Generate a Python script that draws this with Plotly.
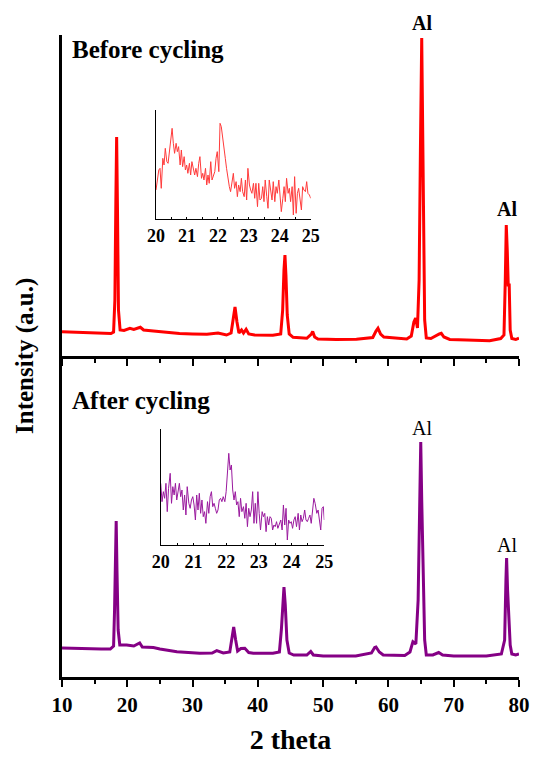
import plotly.graph_objects as go

# ---------------- data ----------------
# main patterns (2 theta, intensity a.u.)
before_2theta = [10.0, 12.0, 14.0, 16.0, 17.5, 17.9, 18.1, 18.25, 18.37, 18.5, 18.65, 18.9, 19.5,
                 20.4, 21.0, 22.0, 22.5, 24.0, 26.0, 28.0, 30.0, 32.2, 33.9, 35.2, 35.9, 36.2,
                 36.5, 36.8, 37.1, 37.5, 37.8, 38.2, 38.6, 39.5, 42.3, 43.5, 43.8, 44.0, 44.15,
                 44.3, 44.5, 44.8, 45.4, 47.5, 48.2, 48.4, 48.7, 49.2, 52.0, 55.1, 57.6, 58.1,
                 58.4, 58.8, 59.3, 62.8, 63.5, 63.9, 64.17, 64.45, 64.7, 64.9, 65.0, 65.1, 65.2,
                 65.3, 65.4, 65.55, 65.8, 66.5, 67.8, 68.1, 68.5, 69.4, 72.0, 75.5, 77.2, 77.7,
                 77.9, 78.05, 78.2, 78.35, 78.5, 78.65, 78.9, 79.5, 80.0]
before_int = [24.3, 24, 23.5, 23, 22.5, 24, 56, 156, 219, 146, 46, 26, 25.5,
              27.7, 26.5, 28.7, 26, 25, 23.7, 22.5, 22, 21.7, 23, 21, 23, 36,
              49, 34, 23, 26, 23, 26.7, 22, 21, 20.7, 22, 46, 86, 101,
              81, 41, 22, 18.7, 17.7, 22, 24.5, 19, 17, 16.5, 16.7, 18.5, 25,
              27.7, 22, 19, 17, 20, 34, 38, 28, 76, 206, 296, 318, 256,
              169, 156, 36, 18, 17.5, 22, 22.7, 19, 16.5, 16, 15.3, 17.5, 21,
              76, 131, 106, 71, 71, 26, 17.5, 16.5, 18]

after_2theta = [10.0, 12.0, 14.0, 16.0, 17.4, 17.9, 18.05, 18.18, 18.3, 18.42, 18.6, 18.85, 19.9,
                21.0, 21.9, 22.3, 24.0, 25.0, 27.6, 31.1, 33.0, 33.7, 34.7, 35.7, 36.0, 36.3,
                36.6, 36.9, 37.4, 38.0, 38.6, 39.3, 42.3, 43.3, 43.6, 43.85, 44.0, 44.2, 44.45,
                44.8, 45.5, 47.5, 47.9, 48.1, 48.5, 50.0, 55.0, 57.4, 57.9, 58.1, 58.6, 59.2,
                62.5, 63.3, 63.75, 64.2, 64.55, 64.8, 64.95, 65.1, 65.25, 65.35, 65.55, 65.8,
                66.8, 67.7, 68.3, 70.0, 75.0, 77.3, 77.8, 78.0, 78.1, 78.25, 78.35, 78.5, 78.65,
                78.9, 79.5, 80.0]
after_int = [29, 28.5, 28.5, 28, 28, 31, 67, 117, 156, 107, 47, 32, 32,
             31, 34, 30, 29.5, 28, 25.3, 23.7, 24, 26.3, 24, 25, 37, 50,
             37, 26, 28.5, 28.7, 24.5, 23.7, 23.7, 25, 47, 82, 90, 72, 37,
             24, 22, 22, 25, 25.5, 22, 21, 21, 24, 29.5, 30, 25, 22,
             21.5, 25, 35.3, 33, 77, 197, 235, 177, 117, 107, 37, 22,
             22, 24.5, 22, 21, 21, 23, 37, 97, 119, 87, 69, 62, 32,
             23, 22, 23]

# inset (20-25 deg), before cycling
inset_before_2theta = [20.00, 20.04, 20.09, 20.13, 20.17, 20.22, 20.26, 20.30, 20.35, 20.39,
                       20.43, 20.47, 20.52, 20.56, 20.60, 20.65, 20.69, 20.73, 20.78, 20.82,
                       20.86, 20.91, 20.95, 20.99, 21.03, 21.08, 21.12, 21.16, 21.21, 21.25,
                       21.29, 21.34, 21.38, 21.42, 21.47, 21.51, 21.55, 21.60, 21.64, 21.68,
                       21.72, 21.77, 21.81, 21.85, 21.90, 21.94, 21.98, 22.03, 22.07, 22.11,
                       22.16, 22.20, 22.24, 22.28, 22.33, 22.37, 22.41, 22.46, 22.50, 22.54,
                       22.59, 22.63, 22.67, 22.72, 22.76, 22.80, 22.85, 22.89, 22.93, 22.97,
                       23.02, 23.06, 23.10, 23.15, 23.19, 23.23, 23.28, 23.32, 23.36, 23.41,
                       23.45, 23.49, 23.53, 23.58, 23.62, 23.66, 23.71, 23.75, 23.79, 23.84,
                       23.88, 23.92, 23.97, 24.01, 24.05, 24.10, 24.14, 24.18, 24.22, 24.27,
                       24.31, 24.35, 24.40, 24.44, 24.48, 24.53, 24.57, 24.61, 24.66, 24.70,
                       24.74, 24.78, 24.83, 24.87, 24.91, 24.96, 25.00]
inset_before_int = [87, 112, 147, 152, 92, 182, 162, 212, 172, 167,
                    197, 217, 272, 227, 197, 227, 202, 217, 162, 207,
                    157, 187, 147, 162, 137, 167, 132, 172, 142, 132,
                    152, 127, 167, 187, 122, 137, 117, 152, 102, 132,
                    107, 172, 117, 127, 142, 182, 202, 142, 287, 277,
                    232, 217, 182, 152, 112, 97, 82, 117, 137, 92,
                    112, 67, 102, 82, 122, 82, 67, 117, 57, 152,
                    102, 87, 77, 107, 62, 107, 37, 107, 57, 62,
                    97, 52, 117, 67, 32, 117, 82, 57, 112, 52,
                    97, 77, 117, 72, 22, 62, 97, 52, 122, 77,
                    92, 52, 97, 12, 127, 17, 77, 92, 57, 27,
                    97, 87, 82, 112, 77, 72, 62]

# inset (20-25 deg), after cycling
inset_after_2theta = [20.00, 20.04, 20.08, 20.12, 20.16, 20.20, 20.24, 20.29, 20.33, 20.37,
                      20.41, 20.45, 20.49, 20.53, 20.57, 20.61, 20.65, 20.69, 20.73, 20.77,
                      20.81, 20.86, 20.90, 20.94, 20.98, 21.02, 21.06, 21.10, 21.14, 21.18,
                      21.22, 21.26, 21.30, 21.34, 21.38, 21.43, 21.47, 21.51, 21.55, 21.59,
                      21.63, 21.67, 21.71, 21.75, 21.79, 21.83, 21.87, 21.91, 21.96, 22.00,
                      22.04, 22.08, 22.12, 22.16, 22.20, 22.24, 22.28, 22.32, 22.36, 22.40,
                      22.44, 22.48, 22.53, 22.57, 22.61, 22.65, 22.69, 22.73, 22.77, 22.81,
                      22.85, 22.89, 22.93, 22.97, 23.01, 23.05, 23.10, 23.14, 23.18, 23.22,
                      23.26, 23.30, 23.34, 23.38, 23.42, 23.46, 23.50, 23.54, 23.58, 23.62,
                      23.67, 23.71, 23.75, 23.79, 23.83, 23.87, 23.91, 23.95, 23.99, 24.03,
                      24.07, 24.11, 24.15, 24.20, 24.24, 24.28, 24.32, 24.36, 24.40, 24.44,
                      24.48, 24.52, 24.56, 24.60, 24.64, 24.68, 24.72, 24.77, 24.81, 24.85,
                      24.89, 24.93, 24.97, 25.00]
inset_after_int = [185, 130, 160, 140, 185, 100, 170, 215, 125, 175,
                   150, 185, 135, 170, 185, 145, 165, 105, 150, 90,
                   175, 125, 110, 135, 145, 120, 75, 150, 105, 155,
                   95, 135, 85, 100, 65, 130, 95, 145, 160, 115,
                   125, 110, 95, 105, 135, 140, 130, 145, 130, 160,
                   215, 275, 225, 240, 165, 135, 160, 120, 130, 85,
                   140, 100, 115, 80, 125, 55, 110, 85, 105, 160,
                   65, 125, 65, 160, 95, 45, 100, 85, 95, 40,
                   85, 60, 85, 80, 45, 60, 55, 70, 50, 60,
                   75, 45, 120, 60, 110, 15, 75, 65, 70, 50,
                   75, 85, 55, 95, 45, 90, 70, 80, 105, 75,
                   70, 80, 90, 65, 95, 140, 125, 95, 105, 80,
                   45, 110, 115, 75]

x_ticks = [10, 20, 30, 40, 50, 60, 70, 80]
inset_ticks = [20, 21, 22, 23, 24, 25]
al_peaks = [65.1, 78.1]

# ---------------- figure ----------------
SERIF = "Liberation Serif"
RED = "#ff0000"
PURPLE = "#850085"

fig = go.Figure()
fig.add_trace(go.Scatter(x=after_2theta, y=after_int, mode="lines",
                         line=dict(color=PURPLE, width=3), xaxis="x", yaxis="y"))
fig.add_trace(go.Scatter(x=before_2theta, y=before_int, mode="lines",
                         line=dict(color=RED, width=3), xaxis="x2", yaxis="y2"))
fig.add_trace(go.Scatter(x=inset_before_2theta, y=inset_before_int, mode="lines",
                         line=dict(color="#ff3b3b", width=1), xaxis="x3", yaxis="y3"))
fig.add_trace(go.Scatter(x=inset_after_2theta, y=inset_after_int, mode="lines",
                         line=dict(color="#9a1a9e", width=1), xaxis="x4", yaxis="y4"))

main_x = dict(range=[10, 80], showline=True, linecolor="black", linewidth=2.5,
              ticks="outside", ticklen=7, tickwidth=2, tickcolor="black",
              tickvals=x_ticks, showgrid=False, zeroline=False, automargin=False,
              minor=dict(dtick=5, ticks="outside", ticklen=4, tickwidth=2,
                         tickcolor="black", showgrid=False))

plain_y = dict(showline=True, linecolor="black", showticklabels=False, ticks="",
               showgrid=False, zeroline=False, automargin=False)

inset_x = dict(range=[20, 25], showline=True, linecolor="black", linewidth=1.3,
               tickvals=inset_ticks, ticks="inside", ticklen=2, tickcolor="black",
               tickfont=dict(family=SERIF, size=18, weight="bold"),
               minor=dict(dtick=0.5, ticks="inside", ticklen=2, tickcolor="black"),
               showgrid=False, zeroline=False, automargin=False)

fig.update_layout(
    width=535, height=760,
    margin=dict(l=62, r=16, t=35, b=83),
    paper_bgcolor="white", plot_bgcolor="white",
    showlegend=False,
    font=dict(family=SERIF, color="black"),
    xaxis=dict(**main_x, anchor="y", domain=[0, 1],
               tickfont=dict(family=SERIF, size=21, weight="bold"),
               title=dict(text="2 theta", standoff=14,
                          font=dict(family=SERIF, size=28, weight="bold"))),
    xaxis2=dict(**main_x, anchor="y2", domain=[0, 1], matches="x",
                showticklabels=False),
    yaxis=dict(**plain_y, domain=[0, 0.5], range=[0, 321], linewidth=2.5),
    yaxis2=dict(**plain_y, domain=[0.5, 1], range=[0, 321], linewidth=2.5),
    xaxis3=dict(**inset_x, domain=[0.2057, 0.5442], anchor="y3"),
    yaxis3=dict(**plain_y, domain=[0.7134, 0.8832], anchor="x3", range=[0, 327],
                linewidth=1.3),
    xaxis4=dict(**inset_x, domain=[0.216, 0.574], anchor="y4"),
    yaxis4=dict(**plain_y, domain=[0.2056, 0.3858], anchor="x4", range=[0, 347],
                linewidth=1.3),
)

ann = []
ann.append(dict(text="Intensity (a.u.)", textangle=-90, xref="paper", yref="paper",
                x=-0.081, y=0.5, showarrow=False, xanchor="center", yanchor="middle",
                font=dict(family=SERIF, size=25, weight="bold")))
ann.append(dict(text="Before cycling", xref="paper", yref="paper", x=0.017, y=0.977,
                showarrow=False, xanchor="left", yanchor="middle",
                font=dict(family=SERIF, size=25, weight="bold")))
ann.append(dict(text="After cycling", xref="paper", yref="paper", x=0.017, y=0.430,
                showarrow=False, xanchor="left", yanchor="middle",
                font=dict(family=SERIF, size=25, weight="bold")))
for xv, yv in zip(al_peaks, [1.0187, 0.729]):
    ann.append(dict(text="Al", xref="x", yref="paper", x=xv, y=yv, showarrow=False,
                    xanchor="center", yanchor="middle",
                    font=dict(family=SERIF, size=20, weight="bold")))
for xv, yv in zip(al_peaks, [0.388, 0.2056]):
    ann.append(dict(text="Al", xref="x", yref="paper", x=xv, y=yv, showarrow=False,
                    xanchor="center", yanchor="middle",
                    font=dict(family=SERIF, size=20)))
fig.update_layout(annotations=ann)

fig.write_html("out.html", config={"displayModeBar": False},
               post_script="document.body.style.margin='0';document.body.style.overflow='hidden';")
